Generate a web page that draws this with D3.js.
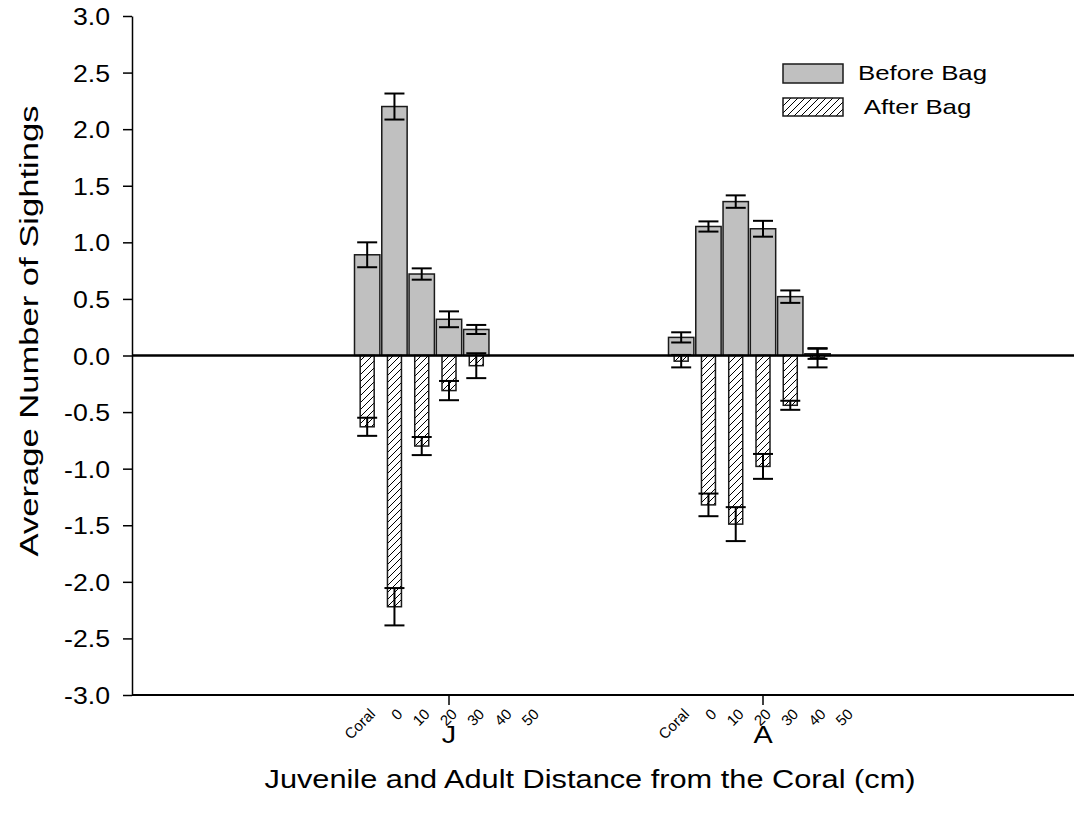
<!DOCTYPE html>
<html>
<head>
<meta charset="utf-8">
<script src="https://cdn.jsdelivr.net/npm/d3@7"></script>
<style>
body { margin:0; background:#fff; }
text { font-family: "Liberation Sans", Arial, sans-serif; fill:#000; }
</style>
</head>
<body>
<svg id="graph"></svg>
<script>
// groups on the x axis and the distance classes inside each group
let groups = ["J","A"]
let categories = ["Coral","0","10","20","30","40","50"]

// before bag (grey bars) and after bag (hatched bars, plotted negative)
let beforeJ = [0.89, 2.20, 0.72, 0.32, 0.23]
let beforeJErr = [0.11, 0.115, 0.05, 0.07, 0.04]
let afterJ = [-0.63, -2.22, -0.80, -0.31, -0.09]
let afterJErr = [0.08, 0.165, 0.08, 0.085, 0.11]

let beforeA = [0.16, 1.14, 1.36, 1.12, 0.52, 0.015]
let beforeAErr = [0.045, 0.045, 0.055, 0.07, 0.055, 0.045]
let afterA = [-0.05, -1.32, -1.49, -0.98, -0.44, -0.02]
let afterAErr = [0.055, 0.10, 0.15, 0.11, 0.04, 0.085]

let yticks = [3.0,2.5,2.0,1.5,1.0,0.5,0.0,-0.5,-1.0,-1.5,-2.0,-2.5,-3.0]

let w = 1074
let h = 813
let leftmargin = 132
let rightedge = 1074
let topmargin = 16
let bottomedge = 695

function rows(group, vals, errs, kind) {
    return vals.map((v,i)=>({group:group, cat:categories[i], value:v, err:errs[i], kind:kind}))
}
let before = rows("J",beforeJ,beforeJErr,"before").concat(rows("A",beforeA,beforeAErr,"before"))
let after = rows("J",afterJ,afterJErr,"after").concat(rows("A",afterA,afterAErr,"after"))

let yscale = d3.scaleLinear()
    .domain([-3,3])
    .range([bottomedge,topmargin])

let xscale = d3.scaleLinear()
    .domain([0,3])
    .range([135,1077])
let groupIndex = d3.scaleOrdinal().domain(groups).range([1,2])

let slot = d3.scaleBand()
    .domain(categories)
    .range([-94.5,94.5])
    .paddingInner(0.07)

let hatchw = 14
let capw = 20

function cx(d) { return xscale(groupIndex(d.group)) + slot(d.cat) + slot.bandwidth()/2 }

let graph = d3.select("#graph")
    .attr("width",w)
    .attr("height",h)

// stretched text helper (the picture's lettering is wider than the font)
function stext(g, str, x, y, size, sx, anchor) {
    return g.append("text")
        .attr("transform",`translate(${x},${y}) scale(${sx},1)`)
        .attr("text-anchor",anchor)
        .style("font-size",size+"px")
        .style("white-space","pre")
        .text(str)
}

let defs = graph.append("defs")
defs.append("pattern")
    .attr("id","hatch")
    .attr("patternUnits","userSpaceOnUse")
    .attr("width",7)
    .attr("height",7)
    .call(p=>{
        p.append("rect").attr("width",7).attr("height",7).attr("fill","#fff")
        p.append("path")
            .attr("d","M-1,1 l2,-2 M0,7 l7,-7 M6,8 l2,-2")
            .attr("stroke","#000")
            .attr("stroke-width",1)
    })

// grey bars
graph.append("g").selectAll("rect")
    .data(before)
    .enter().append("rect")
    .attr("x",d=>cx(d)-slot.bandwidth()/2)
    .attr("width",slot.bandwidth())
    .attr("y",d=>yscale(Math.max(0,d.value)))
    .attr("height",d=>Math.abs(yscale(d.value)-yscale(0)))
    .style("fill","#c0c0c0")
    .style("stroke","#1a1a1a")
    .style("stroke-width",1.5)

// hatched bars
graph.append("g").selectAll("rect")
    .data(after)
    .enter().append("rect")
    .attr("x",d=>cx(d)-hatchw/2)
    .attr("width",hatchw)
    .attr("y",d=>yscale(Math.max(0,d.value)))
    .attr("height",d=>Math.abs(yscale(d.value)-yscale(0)))
    .style("fill","url(#hatch)")
    .style("stroke","#1a1a1a")
    .style("stroke-width",1.5)

// zero line
graph.append("line")
    .attr("x1",leftmargin).attr("x2",rightedge)
    .attr("y1",yscale(0)).attr("y2",yscale(0))
    .attr("stroke","#000")
    .attr("stroke-width",2.5)

// error bars
let eb = graph.append("g").selectAll("g")
    .data(before.concat(after))
    .enter().append("g")
    .attr("stroke","#000")
    .attr("stroke-width",2)
eb.append("line")
    .attr("x1",d=>cx(d)).attr("x2",d=>cx(d))
    .attr("y1",d=>yscale(d.value+d.err)).attr("y2",d=>yscale(d.value-d.err))
eb.append("line")
    .attr("x1",d=>cx(d)-capw/2).attr("x2",d=>cx(d)+capw/2)
    .attr("y1",d=>yscale(d.value+d.err)).attr("y2",d=>yscale(d.value+d.err))
eb.append("line")
    .attr("x1",d=>cx(d)-capw/2).attr("x2",d=>cx(d)+capw/2)
    .attr("y1",d=>yscale(d.value-d.err)).attr("y2",d=>yscale(d.value-d.err))

// y axis
let yaxis = d3.axisLeft(yscale)
    .tickValues(yticks)
    .tickSize(9)
    .tickSizeOuter(0)
    .tickFormat(d=>d.toFixed(1))
let yaxisg = graph.append("g")
    .attr("transform",`translate(${leftmargin},0)`)
    .call(yaxis)
yaxisg.select(".domain").attr("stroke","#000").attr("stroke-width",1.5)
yaxisg.selectAll(".tick line").attr("stroke","#000").attr("stroke-width",1.5)
yaxisg.selectAll(".tick text")
    .attr("x",null).attr("dy",null)
    .attr("transform","translate(-22,8.5) scale(1.16,1)")
    .attr("text-anchor","end")
    .attr("fill","#000")
    .style("font-size","23px")
yaxisg.attr("font-family",null).attr("font-size",null)

// x axis
graph.append("line")
    .attr("x1",leftmargin).attr("x2",rightedge)
    .attr("y1",bottomedge).attr("y2",bottomedge)
    .attr("stroke","#000")
    .attr("stroke-width",2)
let gx = graph.append("g").selectAll("g")
    .data(groups)
    .enter().append("g")
    .attr("transform",d=>`translate(${xscale(groupIndex(d))},${bottomedge})`)
gx.append("line")
    .attr("y1",0).attr("y2",10)
    .attr("stroke","#000")
    .attr("stroke-width",1.5)
gx.each(function(d) {
    stext(d3.select(this), d, 0, 48, 24, 1.2, "middle")
})
gx.selectAll(".cat")
    .data(categories)
    .enter().append("text")
    .attr("class","cat")
    .attr("text-anchor","end")
    .attr("transform",c=>`translate(${slot(c)+slot.bandwidth()/2+9},20) rotate(-45)`)
    .style("font-size","15px")
    .text(c=>c)

// axis titles
stext(graph, "Juvenile and Adult Distance from the Coral (cm)", 590, 788, 25, 1.23, "middle")
graph.append("text")
    .attr("transform",`translate(38,331) rotate(-90) scale(1.33,1)`)
    .attr("text-anchor","middle")
    .style("font-size","26px")
    .text("Average Number of Sightings")

// legend
let legend = graph.append("g")
legend.append("rect")
    .attr("x",783).attr("y",64).attr("width",60).attr("height",19)
    .style("fill","#c0c0c0").style("stroke","#1a1a1a").style("stroke-width",1.5)
legend.append("rect")
    .attr("x",783).attr("y",98).attr("width",60).attr("height",18)
    .style("fill","url(#hatch)").style("stroke","#1a1a1a").style("stroke-width",1.5)
stext(legend, "Before Bag", 858, 80, 20, 1.29, "start")
stext(legend, " After Bag", 858, 114, 20, 1.29, "start")
</script>
</body>
</html>
